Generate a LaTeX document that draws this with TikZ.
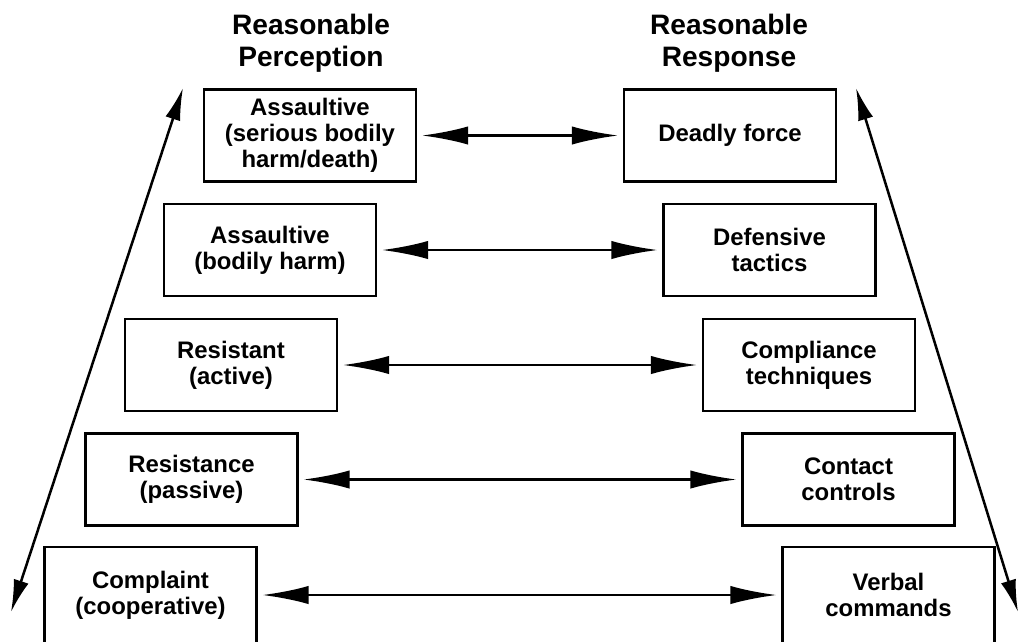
\documentclass[tikz,border=0pt]{standalone}
\usepackage{fontspec}
\setmainfont{Liberation Sans}
\usetikzlibrary{arrows.meta}

\begin{document}
\begin{tikzpicture}[x=0.025cm,y=-0.025cm,
  box/.style={rectangle,draw,line width=2pt,minimum width=5.3cm,minimum height=2.3cm,
    align=center,font=\fontsize{17}{18.5}\selectfont\bfseries},
  head/.style={align=center,font=\fontsize{20}{22.7}\selectfont\bfseries},
  link/.style={line width=2pt,shorten <=3pt,shorten >=3pt,
    {Latex[length=33pt,width=13pt]}-{Latex[length=33pt,width=13pt]}},
  side/.style={line width=1.8pt,{Latex[length=23pt,width=11pt]}-{Latex[length=23pt,width=11pt]}}]
\clip (0,0) rectangle (1019,641);
\node [head] (perc) at (311,43) {Reasonable\\Perception};
\node [head] (resp) at (729,43) {Reasonable\\Response};
% perception column
\node [box] (p1) at (310,135.5) {Assaultive\\(serious bodily\\harm/death)};
\node [box] (p2) at (270,250) {Assaultive\\(bodily harm)};
\node [box] (p3) at (231,365) {Resistant\\(active)};
\node [box] (p4) at (191.5,479.5) {Resistance\\(passive)};
\node [box,minimum height=2.4cm] (p5) at (150.5,595) {Complaint\\(cooperative)};
% response column
\node [box] (r1) at (730,135.5) {Deadly force};
\node [box] (r2) at (769.5,250) {Defensive\\tactics};
\node [box] (r3) at (809,365) {Compliance\\techniques};
\node [box] (r4) at (848.5,479.5) {Contact\\controls};
\node [box,minimum height=2.4cm] (r5) at (888.5,595) {Verbal\\commands};
\foreach \i in {1,...,5}
  \draw [link] (p\i.east) -- (r\i.west);
% outer arrows
\coordinate (lb) at (11,612);
\coordinate (lt) at (183,88);
\coordinate (rt) at (856,88);
\coordinate (rb) at (1018,612);
\draw [side] (lb) -- (lt);
\draw [side] (rt) -- (rb);
\end{tikzpicture}
\end{document}
